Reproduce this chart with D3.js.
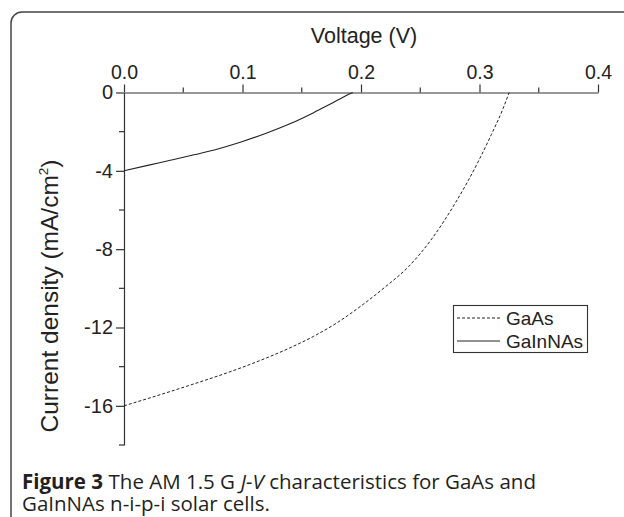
<!DOCTYPE html>
<html>
<head>
<meta charset="utf-8">
<script src="https://cdn.jsdelivr.net/npm/d3@7"></script>
<style>
  html, body { margin: 0; padding: 0; background: #fff; }
  svg { display: block; }
</style>
</head>
<body>
<svg id="chart" width="624" height="517"></svg>
<script>
// ---- data ----
const seriesNames = ["GaAs", "GaInNAs"];
const gaasV = [0, 0.02, 0.04, 0.06, 0.08, 0.10, 0.12, 0.14, 0.16, 0.18, 0.20, 0.22, 0.24, 0.26, 0.28, 0.29, 0.30, 0.31, 0.32, 0.325];
const gaasJ = [-16.0, -15.63, -15.25, -14.86, -14.46, -14.03, -13.56, -13.04, -12.45, -11.75, -10.9, -9.95, -8.9, -7.45, -5.6, -4.55, -3.4, -2.15, -0.8, 0];
const gainnasV = [0, 0.02, 0.04, 0.06, 0.08, 0.10, 0.12, 0.14, 0.16, 0.17, 0.18, 0.19, 0.193];
const gainnasJ = [-4.0, -3.72, -3.45, -3.17, -2.87, -2.5, -2.08, -1.6, -1.03, -0.72, -0.4, -0.08, 0];
const xTicks = [0, 0.1, 0.2, 0.3, 0.4];
const xMinorTicks = [0.05, 0.15, 0.25, 0.35];
const yTicks = [0, -4, -8, -12, -16];
const yMinorTicks = [-2, -6, -10, -14, -18];

const svg = d3.select("#chart");
const axisColor = "#333";
const fontAxis = "'Liberation Sans', Arial, sans-serif";

// frame
svg.append("rect")
  .attr("x", 11).attr("y", 12).attr("width", 700).attr("height", 520)
  .attr("rx", 11).attr("ry", 11)
  .attr("fill", "none").attr("stroke", "#444").attr("stroke-width", 1.5);

const x = d3.scaleLinear().domain([0, 0.4]).range([124, 598]);
const y = d3.scaleLinear().domain([0, -18]).range([92.5, 445]);

// x axis (top)
const gx = svg.append("g").attr("transform", `translate(0,${y(0)})`)
  .call(d3.axisTop(x).tickValues(xTicks).tickSize(8).tickSizeOuter(0).tickPadding(6).tickFormat(d3.format(".1f")));
gx.selectAll("text").attr("font-size", 19.5).attr("font-family", fontAxis).attr("fill", "#222");
gx.select(".domain").attr("stroke", axisColor).attr("stroke-width", 1.2);
gx.selectAll(".tick line").attr("stroke", axisColor).attr("stroke-width", 1.2);
svg.append("g").attr("transform", `translate(0,${y(0)})`)
  .selectAll("line").data(xMinorTicks).join("line")
  .attr("x1", d => x(d)).attr("x2", d => x(d)).attr("y1", 0).attr("y2", -5)
  .attr("stroke", axisColor).attr("stroke-width", 1.2);

// y axis (left)
const gy = svg.append("g").attr("transform", `translate(${x(0)},0)`)
  .call(d3.axisLeft(y).tickValues(yTicks).tickSize(8).tickSizeOuter(0).tickPadding(3).tickFormat(d => String(d)));
gy.selectAll("text").attr("font-size", 20).attr("font-family", fontAxis).attr("fill", "#222");
gy.select(".domain").attr("stroke", axisColor).attr("stroke-width", 1.2);
gy.selectAll(".tick line").attr("stroke", axisColor).attr("stroke-width", 1.2);
svg.append("g").attr("transform", `translate(${x(0)},0)`)
  .selectAll("line").data(yMinorTicks).join("line")
  .attr("x1", 0).attr("x2", -5).attr("y1", d => y(d)).attr("y2", d => y(d))
  .attr("stroke", axisColor).attr("stroke-width", 1.2);

// axis titles
svg.append("text").attr("x", 364).attr("y", 43).attr("text-anchor", "middle")
  .attr("font-size", 21.5).attr("font-family", fontAxis).attr("fill", "#222")
  .text("Voltage (V)");
const yl = svg.append("text").attr("transform", "translate(58,296) rotate(-90)")
  .attr("text-anchor", "middle").attr("font-size", 24.5).attr("font-family", fontAxis).attr("fill", "#222");
yl.append("tspan").text("Current density (mA/cm");
yl.append("tspan").attr("font-size", 13.5).attr("dy", -10).text("2");
yl.append("tspan").attr("dy", 10).text(")");

// curves
const line = d3.line().x(d => x(d[0])).y(d => y(d[1])).curve(d3.curveMonotoneX);
const gaas = gaasV.map((v, i) => [v, gaasJ[i]]);
const gainnas = gainnasV.map((v, i) => [v, gainnasJ[i]]);
svg.append("path").attr("d", line(gaas)).attr("fill", "none")
  .attr("stroke", "#222").attr("stroke-width", 1).attr("stroke-dasharray", "3,2");
svg.append("path").attr("d", line(gainnas)).attr("fill", "none")
  .attr("stroke", "#222").attr("stroke-width", 1.1);

// legend
const lg = svg.append("g");
lg.append("rect").attr("x", 453.5).attr("y", 305.5).attr("width", 134).attr("height", 47)
  .attr("fill", "#fff").attr("stroke", "#333").attr("stroke-width", 1.1);
const legendStyles = [{ dash: "3,2" }, { dash: null }];
seriesNames.forEach((name, i) => {
  const yy = 318 + i * 23;
  const l = lg.append("line").attr("x1", 457).attr("x2", 500).attr("y1", yy).attr("y2", yy)
    .attr("stroke", "#222").attr("stroke-width", 1);
  if (legendStyles[i].dash) l.attr("stroke-dasharray", legendStyles[i].dash);
  lg.append("text").attr("x", 506).attr("y", yy + 7).attr("font-size", 19)
    .attr("font-family", fontAxis).attr("fill", "#222").text(name);
});

// caption (pieces laid out one after another)
const capFont = "'Open Sans', 'Noto Sans', sans-serif";
const captionLine1 = [
  { t: "Figure 3", w: 700, s: "normal" },
  { t: "The AM 1.5 G", w: 500, s: "normal", gap: true },
  { t: "J-V", w: 500, s: "italic", gap: true },
  { t: "characteristics for GaAs and", w: 500, s: "normal", gap: true }
];
const captionLine2 = "GaInNAs n-i-p-i solar cells.";
const spaceW = 5.5;
let cx = 22;
captionLine1.forEach(p => {
  if (p.gap) cx += spaceW;
  const t = svg.append("text").attr("x", cx).attr("y", 489).attr("font-size", 20.5)
    .attr("font-family", capFont).attr("font-weight", p.w).attr("font-style", p.s)
    .attr("fill", "#231f20").text(p.t);
  cx += t.node().getComputedTextLength();
});
svg.append("text").attr("x", 22).attr("y", 511).attr("font-size", 20.5)
  .attr("font-family", capFont).attr("font-weight", 500).attr("fill", "#231f20")
  .text(captionLine2);
</script>
</body>
</html>
